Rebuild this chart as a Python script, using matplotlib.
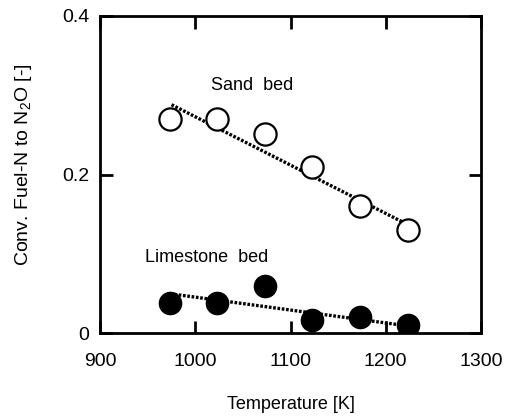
import matplotlib
matplotlib.use("Agg")
import matplotlib.pyplot as plt

plt.rcParams["font.family"] = ["Liberation Sans", "DejaVu Sans"]
plt.rcParams["mathtext.fontset"] = "custom"
plt.rcParams["mathtext.rm"] = "Liberation Sans"
plt.rcParams["mathtext.it"] = "Liberation Sans:italic"

temp = [973, 1023, 1073, 1123, 1173, 1223]
sand_conv = [0.270, 0.270, 0.251, 0.210, 0.160, 0.130]
lime_conv = [0.038, 0.038, 0.060, 0.017, 0.020, 0.010]

# 近似直線 (端点)
sand_fit_t = [975, 1218]
sand_fit_y = [0.288, 0.140]
lime_fit_t = [978, 1218]
lime_fit_y = [0.049, 0.010]

x_ticks = [900, 1000, 1100, 1200, 1300]
y_ticks = [0, 0.2, 0.4]
y_ticklabels = ["0", "0.2", "0.4"]


def main():
    fig = plt.figure(figsize=(5.11, 4.17), dpi=100, facecolor="white")
    ax = fig.add_axes([0.196, 0.201, 0.745, 0.761])

    ax.plot(sand_fit_t, sand_fit_y, color="black", lw=2.4, ls=(0, (0.8, 0.5)), zorder=2)
    ax.plot(lime_fit_t, lime_fit_y, color="black", lw=2.4, ls=(0, (0.8, 0.5)), zorder=2)

    ax.plot(temp, sand_conv, "o", ms=16, mfc="white", mec="black", mew=1.6, ls="none", zorder=3)
    ax.plot(temp, lime_conv, "o", ms=16, mfc="black", mec="black", ls="none", zorder=3)

    ax.set_xlim(900, 1300)
    ax.set_ylim(0, 0.4)
    ax.set_xticks(x_ticks)
    ax.set_yticks(y_ticks)
    ax.set_yticklabels(y_ticklabels)
    ax.tick_params(direction="in", length=9, width=2, top=True, right=True,
                   labelsize=14, pad=8)
    ax.tick_params(axis="x", pad=14)
    for sp in ax.spines.values():
        sp.set_linewidth(2)

    ax.text(1060, 0.312, "Sand  bed", ha="center", va="center", fontsize=13)
    ax.text(1012, 0.096, "Limestone  bed", ha="center", va="center", fontsize=13)

    ax.set_xlabel("Temperature [K]", fontsize=13, labelpad=19)
    ax.set_ylabel("Conv. Fuel-N to N$_2$O [-]", fontsize=14)
    ax.yaxis.set_label_coords(-0.175, 0.53)

    fig.savefig("out.png", dpi=100, facecolor="white")
    plt.close(fig)


if __name__ == "__main__":
    main()
